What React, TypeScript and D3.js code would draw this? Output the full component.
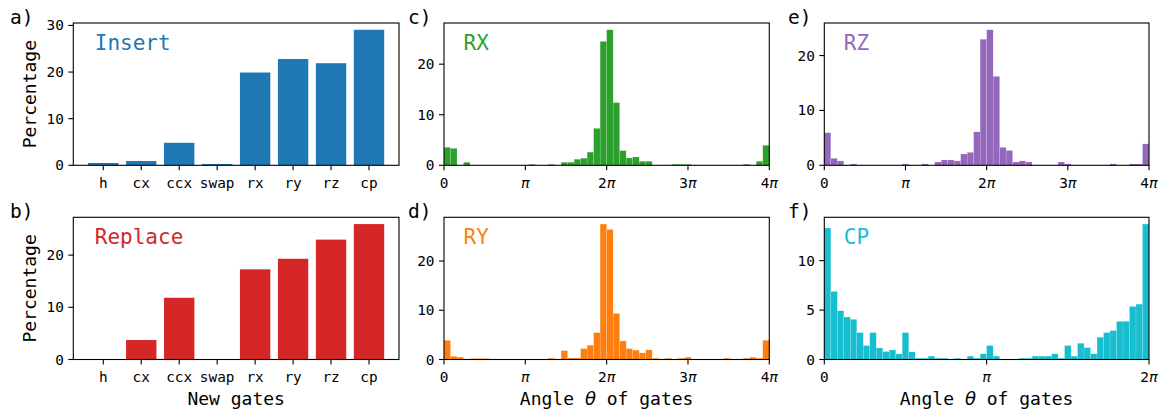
import React from "react";
import * as d3 from "d3";

const gates = ["h", "cx", "ccx", "swap", "rx", "ry", "rz", "cp"];
const insertValues = [0.5, 0.92, 4.83, 0.28, 19.9, 22.8, 21.9, 29.07];
const replaceValues = [0, 3.73, 11.83, 0, 17.28, 19.3, 22.97, 25.95];

const rxBins = [3.55,3.35,0,0.6,0,0,0,0,0,0, 0,0,0,0.2,0,0,0.2,0,0.6,0.6, 1.2,1.4,2.6,7.3,24.5,26.8,12.4,2.9,1.45,1.65, 0.8,0.8,0,0,0,0.2,0.2,0.2,0,0, 0,0,0,0,0,0,0.2,0,0.8,3.95];
const ryBins = [3.9,0.67,0.47,0,0.2,0.2,0.2,0,0,0, 0,0,0,0,0,0,0.27,0,1.8,0.3, 0.3,2.2,2.9,5.45,27.5,26.4,9.35,3.77,2.2,1.9, 1.35,1.95,0.27,0,0.27,0,0.27,0.47,0,0, 0,0,0,0.27,0,0,0.27,0.47,0.27,3.9];
const rzBins = [5.94,1.27,0.8,0,0.25,0,0,0,0,0, 0,0,0.25,0,0,0.25,0,0.6,0.97,0.97, 0.8,2.06,2.36,6.1,22.97,24.7,16.2,3.27,2.7,0.6, 0.8,0.6,0,0,0,0,0.6,0.25,0,0, 0,0,0,0,0.25,0,0,0.25,0.25,3.9];
const cpBins = [13.3,6.88,4.93,4.3,4.06,2.72,1.41,2.72,1.17,0.8, 0.97,0.57,2.72,0.77,0.13,0.13,0.34,0.13,0.13,0, 0.13,0,0.34,0.13,0.57,1.41,0.34,0,0,0, 0.13,0.13,0.34,0.34,0.34,0.57,0.13,1.41,0.34,1.64, 1.2,0.57,2.25,2.72,2.92,3.86,3.86,5.37,5.6,13.7];

const piTicks4 = [0, 1, 2, 3, 4];
const piTicks2 = [0, 1, 2];
const ticksBarA = [0, 10, 20, 30];
const ticksBarB = [0, 10, 20];
const ticksHistC = [0, 10, 20];
const ticksHistD = [0, 10, 20];
const ticksHistE = [0, 10, 20];
const ticksHistF = [0, 5, 10];

const MONO = "'DejaVu Sans Mono', monospace";
const SANS = "'DejaVu Sans', sans-serif";
const TICK = 14.4;
const LABEL = 18;
const TITLE = 21;
const PANEL = 19.5;

const COL1 = [73.3, 399];
const COL2 = [444, 769.3];
const COL3 = [824.3, 1149];
const ROW1 = [23, 165.3];
const ROW2 = [217.3, 359.5];

function YAxis({ y, ticks, x0 }: { y: d3.ScaleLinear<number, number>; ticks: number[]; x0: number }) {
  return (
    <g>
      {ticks.map((t) => (
        <g key={t}>
          <line x1={x0 - 5} x2={x0} y1={y(t)} y2={y(t)} stroke="#000" strokeWidth={1.1} />
          <text x={x0 - 9.5} y={y(t)} dy="0.35em" textAnchor="end" fontFamily={MONO} fontSize={TICK} fill="#000">
            {t}
          </text>
        </g>
      ))}
    </g>
  );
}

function Frame({ cols, rows }: { cols: number[]; rows: number[] }) {
  return (
    <rect x={cols[0]} y={rows[0]} width={cols[1] - cols[0]} height={rows[1] - rows[0]} fill="none" stroke="#000" strokeWidth={1.1} />
  );
}

function BarPanel({ values, cols, rows, ticks, color, title, label, showX }: any) {
  const x = d3.scaleLinear().domain([-0.79, gates.length - 1 + 0.79]).range(cols);
  const y = d3.scaleLinear().domain([0, (d3.max(values as number[]) as number) * 1.05]).range([rows[1], rows[0]]);
  const bw = x(0.8) - x(0);
  return (
    <g>
      {gates.map((g, i) => (
        <rect key={g} x={x(i) - bw / 2} y={y(values[i])} width={bw} height={y(0) - y(values[i])} fill={color} />
      ))}
      <Frame cols={cols} rows={rows} />
      <YAxis y={y} ticks={ticks} x0={cols[0]} />
      {gates.map((g, i) => (
        <g key={g}>
          <line x1={x(i)} x2={x(i)} y1={rows[1]} y2={rows[1] + 5} stroke="#000" strokeWidth={1.1} />
          <text x={x(i)} y={rows[1] + 22.5} textAnchor="middle" fontFamily={MONO} fontSize={TICK} fill="#000">
            {g}
          </text>
        </g>
      ))}
      <text x={cols[0] + 21.5} y={rows[0] + 27} fontFamily={MONO} fontSize={TITLE} fill={color}>
        {title}
      </text>
      <text transform={`translate(${35.5},${(rows[0] + rows[1]) / 2}) rotate(-90)`} textAnchor="middle" fontFamily={MONO} fontSize={LABEL} fill="#000">
        Percentage
      </text>
      <text x={10} y={rows[0] + 1} fontFamily={MONO} fontSize={PANEL} fill="#000">{label}</text>
      {showX && (
        <text x={(cols[0] + cols[1]) / 2} y={405} textAnchor="middle" fontFamily={MONO} fontSize={LABEL} fill="#000">
          New gates
        </text>
      )}
    </g>
  );
}

function piLabel(k: number) {
  if (k === 0) return <tspan>0</tspan>;
  return (
    <>
      {k > 1 && <tspan>{k}</tspan>}
      <tspan fontFamily={SANS} fontStyle="italic">π</tspan>
    </>
  );
}

function HistPanel({ bins, maxPi, piTicks, cols, rows, ticks, color, title, label, labelX, showX }: any) {
  const x = d3.scaleLinear().domain([0, maxPi * Math.PI]).range(cols);
  const y = d3.scaleLinear().domain([0, (d3.max(bins as number[]) as number) * 1.05]).range([rows[1], rows[0]]);
  const n = bins.length;
  const w = (maxPi * Math.PI) / n;
  return (
    <g>
      {(bins as number[]).map((v, i) =>
        v > 0 ? (
          <rect key={i} x={x(i * w)} y={y(v)} width={x((i + 1) * w) - x(i * w)} height={y(0) - y(v)} fill={color} stroke="#ffffff" strokeOpacity={0.35} strokeWidth={0.4} />
        ) : null
      )}
      <Frame cols={cols} rows={rows} />
      <YAxis y={y} ticks={ticks} x0={cols[0]} />
      {(piTicks as number[]).map((k) => (
        <g key={k}>
          <line x1={x(k * Math.PI)} x2={x(k * Math.PI)} y1={rows[1]} y2={rows[1] + 5} stroke="#000" strokeWidth={1.1} />
          <text x={x(k * Math.PI)} y={rows[1] + 22.5} textAnchor="middle" fontFamily={MONO} fontSize={TICK} fill="#000">
            {piLabel(k)}
          </text>
        </g>
      ))}
      <text x={cols[0] + 19.5} y={rows[0] + 27} fontFamily={MONO} fontSize={TITLE} fill={color}>
        {title}
      </text>
      <text x={labelX} y={rows[0] + 1} fontFamily={MONO} fontSize={PANEL} fill="#000">{label}</text>
      {showX && (
        <text x={(cols[0] + cols[1]) / 2} y={405} textAnchor="middle" fontFamily={MONO} fontSize={LABEL} fill="#000">
          Angle <tspan fontFamily={SANS} fontStyle="italic">θ</tspan> of gates
        </text>
      )}
    </g>
  );
}

export default function App() {
  return (
    <svg width={1164} height={412} style={{ position: "absolute", left: 0, top: 0, background: "#fff" }}>
      <rect width={1164} height={412} fill="#fff" />
      <BarPanel values={insertValues} cols={COL1} rows={ROW1} ticks={ticksBarA} color="#1f77b4" title="Insert" label="a)" showX={false} />
      <BarPanel values={replaceValues} cols={COL1} rows={ROW2} ticks={ticksBarB} color="#d62728" title="Replace" label="b)" showX={true} />
      <HistPanel bins={rxBins} maxPi={4} piTicks={piTicks4} cols={COL2} rows={ROW1} ticks={ticksHistC} color="#2ca02c" title="RX" label="c)" labelX={408} showX={false} />
      <HistPanel bins={ryBins} maxPi={4} piTicks={piTicks4} cols={COL2} rows={ROW2} ticks={ticksHistD} color="#ff7f0e" title="RY" label="d)" labelX={408} showX={true} />
      <HistPanel bins={rzBins} maxPi={4} piTicks={piTicks4} cols={COL3} rows={ROW1} ticks={ticksHistE} color="#9467bd" title="RZ" label="e)" labelX={788} showX={false} />
      <HistPanel bins={cpBins} maxPi={2} piTicks={piTicks2} cols={COL3} rows={ROW2} ticks={ticksHistF} color="#17becf" title="CP" label="f)" labelX={788} showX={true} />
    </svg>
  );
}
